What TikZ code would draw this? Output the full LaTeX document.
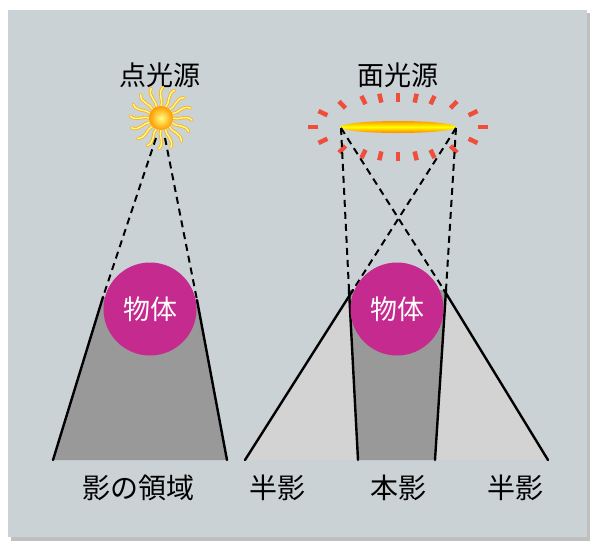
\documentclass[tikz,border=0pt]{standalone}
\usepackage{fontspec}
\newfontfamily\jpfont{Noto Sans CJK JP}
\usepackage{tikz}
\usetikzlibrary{positioning}
\definecolor{panelgray}{HTML}{CAD2D6}
\definecolor{bodypink}{HTML}{C52A8E}
\definecolor{flarered}{HTML}{EE4E3A}
\definecolor{umbragray}{HTML}{999999}
\definecolor{penumbragray}{HTML}{D3D3D3}
\tikzset {
	headline/.style={font=\jpfont\fontsize{27}{30}\selectfont},
	shadename/.style={font=\jpfont\fontsize{28}{32}\selectfont},
	body/.style={circle, fill=bodypink, minimum size=93pt, inner sep=0pt, text=white,
					font=\jpfont\fontsize{27}{30}\selectfont},
	edge/.style={line width=2.4pt, line cap=round},
	sightline/.style={line width=2pt, dash pattern=on 7pt off 5pt},
	flare/.style={line width=4.5pt, draw=flarered},
	sunray/.style={line width=3pt, draw=orange!60!yellow, line cap=round},
	sunrayglow/.style={line width=1.4pt, draw=yellow!40!white, line cap=round}
}

\begin{document}
\begin{tikzpicture}[x=1pt, y=-1pt]
	\useasboundingbox (0,0) rectangle (590,541);
	% panel
	\fill[gray!50] (11,13) rectangle (590,541);
	\fill[panelgray] (8,10) rectangle (587,537);

	% point source
	\node[headline] (pointname) at (160,75) {点光源};
	\coordinate (sun) at (161,118);
	\foreach \a in {0,22.5,...,337.5} {
		\draw[sunray, shift={(sun)}] (\a:11) .. controls (\a+10:18) and (\a-10:25) .. (\a+4:31);
		\draw[sunrayglow, shift={(sun)}] (\a:11) .. controls (\a+10:18) and (\a-10:25) .. (\a+4:31);
	}
	\shade[inner color=yellow!50!white, outer color=orange!80!yellow, shift={(sun)}] (0,0) circle (12);
	\coordinate (sunL) at (156,138);
	\coordinate (sunR) at (165,138);
	\coordinate (tanL) at (103,297);
	\coordinate (tanR) at (197,300);
	\coordinate (baseL) at (53,460);
	\coordinate (baseR) at (227,460);
	\fill[umbragray] (tanL) -- (tanR) -- (baseR) -- (baseL) -- cycle;
	\draw[sightline] (sunL) -- (tanL);
	\draw[sightline] (sunR) -- (tanR);
	\draw[edge] (tanL) -- (baseL);
	\draw[edge] (tanR) -- (baseR);
	\node[body] (pointobj) at (150,309) {物体};
	\node[shadename] (shadow) at (138,488) {影の領域};

	% area source
	\node[headline] (areaname) at (398,75) {面光源};
	\foreach \a in {0,28,49,66,78,90,102,114,131,152,180,208,229,246,258,270,282,294,311,332}
		\draw[flare] ({398+80*cos(\a)},{127+25*sin(\a)}) -- ({398+90*cos(\a)},{127+34*sin(\a)});
	\shade[top color=orange!80!yellow, bottom color=orange, middle color=yellow] (398,127) ellipse (58 and 6);
	\coordinate (srcL) at (341,128);
	\coordinate (srcR) at (456,128);
	\coordinate (penL) at (353,290);
	\coordinate (penR) at (444,290);
	\coordinate (umL) at (349,290);
	\coordinate (umR) at (446,290);
	\coordinate (penbaseL) at (245,460);
	\coordinate (penbaseR) at (548,460);
	\coordinate (umbaseL) at (358,460);
	\coordinate (umbaseR) at (435,460);
	\fill[penumbragray] (penL) -- (penR) -- (penbaseR) -- (penbaseL) -- cycle;
	\fill[umbragray] (umL) -- (umR) -- (umbaseR) -- (umbaseL) -- cycle;
	\draw[sightline] (srcL) -- (umL);
	\draw[sightline] (srcR) -- (umR);
	\draw[sightline] (srcL) -- (penR);
	\draw[sightline] (srcR) -- (penL);
	\draw[edge] (umL) -- (umbaseL);
	\draw[edge] (umR) -- (umbaseR);
	\draw[edge] (penL) -- (penbaseL);
	\draw[edge] (penR) -- (penbaseR);
	\node[body] (areaobj) at (397,309) {物体};
	\node[shadename] (penumbraL) at (277,488) {半影};
	\node[shadename] (umbra) at (398,488) {本影};
	\node[shadename] (penumbraR) at (515,488) {半影};
\end{tikzpicture}
\end{document}
